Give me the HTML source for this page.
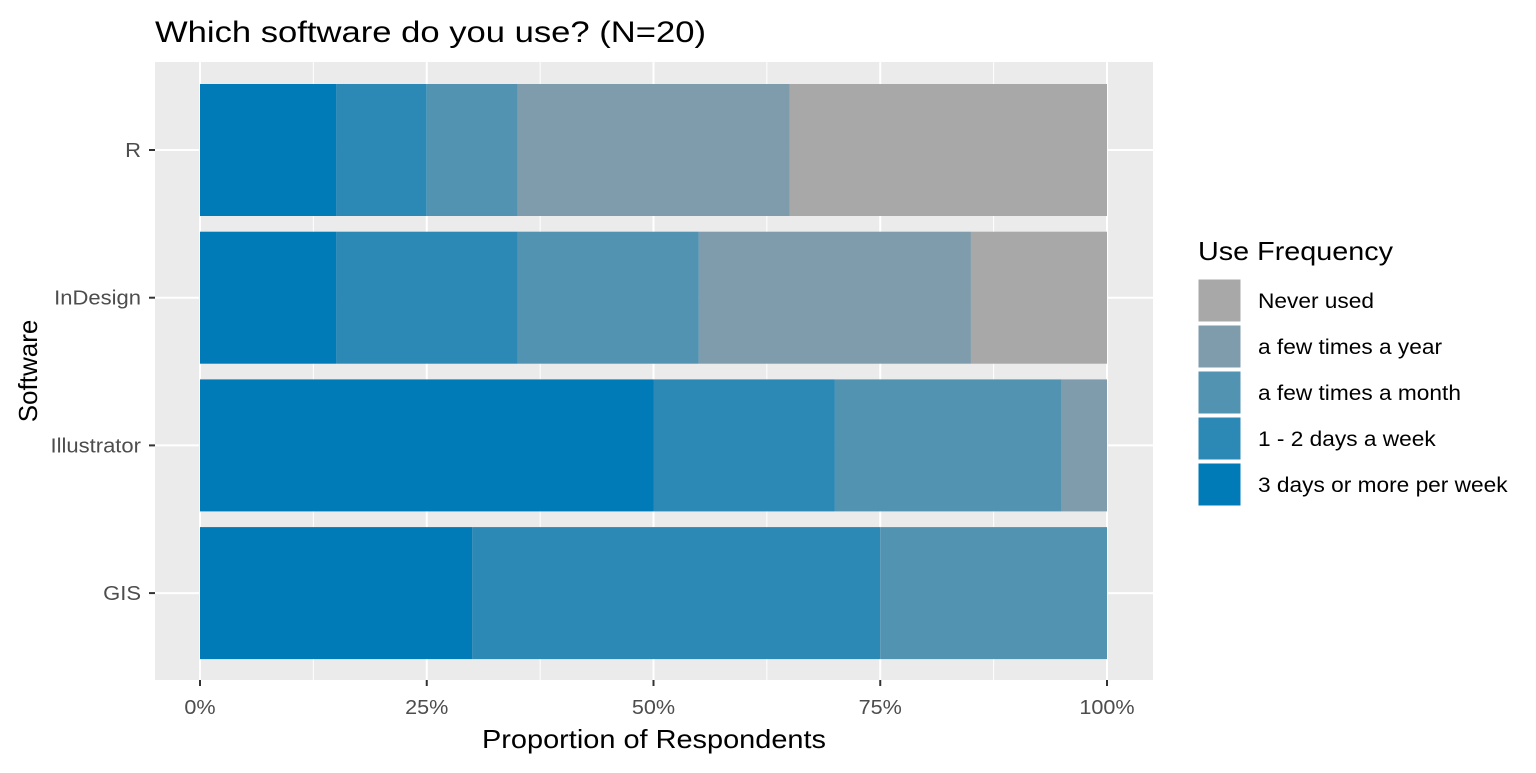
<!DOCTYPE html>
<html><head><meta charset="utf-8"><style>
body{margin:0;background:#fff;font-family:"Liberation Sans",Arial,sans-serif}
svg text{font-family:"Liberation Sans",Arial,sans-serif}
</style></head><body>
<svg id="chart" width="1536" height="768">
<rect x="155" y="62" width="998" height="618" fill="#ebebeb"/>
<g id="grid"></g><g id="bars"></g><g id="axes"></g><g id="legend"></g>
<text x="155" y="42" font-size="30" textLength="551" lengthAdjust="spacingAndGlyphs" fill="#000">Which software do you use? (N=20)</text>
<text x="482" y="748" font-size="26" textLength="344" lengthAdjust="spacingAndGlyphs" fill="#000">Proportion of Respondents</text>
<text transform="translate(37,371) rotate(-90)" font-size="26" text-anchor="middle" fill="#000">Software</text>
<text x="1198" y="260" font-size="26" textLength="195" lengthAdjust="spacingAndGlyphs" fill="#000">Use Frequency</text>
</svg>
<script>
const categories=["R","InDesign","Illustrator","GIS"];
const levels=["3 days or more per week","1 - 2 days a week","a few times a month","a few times a year","Never used"];
const colors=["#007bb8","#2c88b5","#5393b2","#7f9cac","#a8a8a8"];
const s3days=[15,15,50,30];
const s12days=[10,20,20,45];
const sMonth=[10,20,25,25];
const sYear=[30,30,5,0];
const sNever=[35,15,0,0];
const xTicks=[0,25,50,75,100];
const xTickLabels=["0%","25%","50%","75%","100%"];
const series=[s3days,s12days,sMonth,sYear,sNever];
const NS="http://www.w3.org/2000/svg";
function x(v){return 200+v*9.07;}
function yc(i){return 150+i*147.7;}
const bw=132;
function mk(tag,attrs,parent){const e=document.createElementNS(NS,tag);for(const k in attrs)e.setAttribute(k,attrs[k]);document.getElementById(parent).appendChild(e);return e;}
function fit(t,scale){const w=t.getComputedTextLength();t.setAttribute("textLength",w*scale);t.setAttribute("lengthAdjust","spacingAndGlyphs");}
for(let i=0;i<xTicks.length-1;i++){const m=(xTicks[i]+xTicks[i+1])/2;
 const g=mk("line",{x1:x(m),x2:x(m),y1:62,y2:680,stroke:"#fff","stroke-width":1},"grid");
 
 }
xTicks.forEach((t,i)=>{
 const g=mk("line",{x1:x(t),x2:x(t),y1:62,y2:680,stroke:"#fff","stroke-width":2},"grid");
 
 
 const tk=mk("line",{x1:x(t),x2:x(t),y1:680,y2:686,stroke:"#333","stroke-width":2},"axes");
 
 
 const tx=mk("text",{x:x(t),y:714,"font-size":20,"text-anchor":"middle",fill:"#4d4d4d"},"axes");
 tx.textContent=xTickLabels[i];
 
 
 fit(tx,1.08);});
categories.forEach((c,i)=>{
 const g=mk("line",{x1:155,x2:1153,y1:yc(i),y2:yc(i),stroke:"#fff","stroke-width":2},"grid");
 
 
 const tk=mk("line",{x1:149,x2:155,y1:yc(i),y2:yc(i),stroke:"#333","stroke-width":2},"axes");
 
 
 const tx=mk("text",{x:141,y:yc(i)+7,"font-size":20,"text-anchor":"end",fill:"#4d4d4d"},"axes");
 tx.textContent=c;
 
 
 fit(tx,1.1);
 let cum=0;
 series.forEach((s,j)=>{const v=s[i];if(v>0){
  const r=mk("rect",{x:x(cum),y:yc(i)-bw/2,width:x(cum+v)-x(cum),height:bw,fill:colors[j]},"bars");
  
  }
  cum+=v;});
});
for(let k=0;k<5;k++){const j=4-k;const y0=279+k*46;
 const r=mk("rect",{x:1198,y:y0,width:43,height:43,fill:colors[j],stroke:"#fff","stroke-width":1},"legend");
 
 
 const t=mk("text",{x:1258,y:y0+29,"font-size":21,fill:"#000"},"legend");
 t.textContent=levels[j];
 
 
 fit(t,1.08);}
</script>
</body></html>
